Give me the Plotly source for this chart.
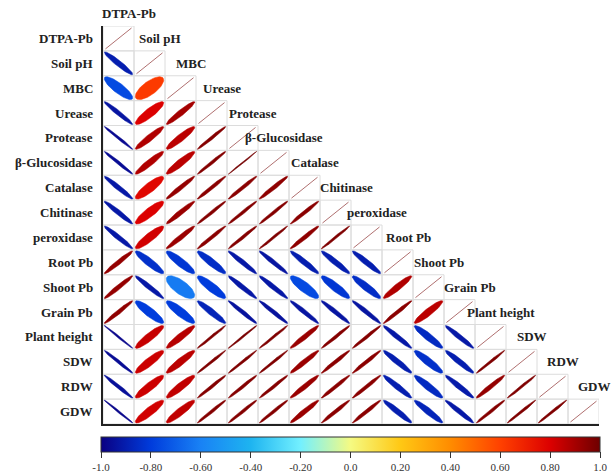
import numpy as np
import plotly.graph_objects as go

variables = ["DTPA-Pb", "Soil pH", "MBC", "Urease", "Protease", "β-Glucosidase",
             "Catalase", "Chitinase", "peroxidase", "Root Pb", "Shoot Pb",
             "Grain Pb", "Plant height", "SDW", "RDW", "GDW"]

# lower-triangle correlations, row i holds values for columns 1..i-1
r_soil_ph = [-0.90]
r_mbc = [-0.76, 0.62]
r_urease = [-0.93, 0.80, 0.90]
r_protease = [-0.97, 0.88, 0.86, 0.96]
r_glucosidase = [-0.96, 0.88, 0.86, 0.96, 0.99]
r_catalase = [-0.92, 0.78, 0.93, 0.95, 0.95, 0.94]
r_chitinase = [-0.92, 0.80, 0.92, 0.96, 0.96, 0.96, 0.95]
r_peroxidase = [-0.92, 0.82, 0.92, 0.95, 0.96, 0.97, 0.94, 0.97]
r_root_pb = [0.93, -0.84, -0.82, -0.85, -0.92, -0.93, -0.90, -0.90, -0.90]
r_shoot_pb = [0.93, -0.92, -0.62, -0.80, -0.92, -0.92, -0.76, -0.82, -0.85, 0.88]
r_grain_pb = [0.94, -0.80, -0.80, -0.88, -0.94, -0.94, -0.93, -0.93, -0.93, 0.95, 0.86]
r_plant_height = [-0.98, 0.84, 0.87, 0.97, 0.98, 0.97, 0.92, 0.96, 0.96, -0.92, -0.86, -0.92]
r_sdw = [-0.96, 0.83, 0.86, 0.97, 0.97, 0.97, 0.92, 0.95, 0.95, -0.90, -0.84, -0.90, 0.97]
r_rdw = [-0.95, 0.83, 0.85, 0.96, 0.96, 0.96, 0.92, 0.95, 0.95, -0.90, -0.86, -0.91, 0.93, 0.97]
r_gdw = [-0.98, 0.82, 0.85, 0.96, 0.96, 0.96, 0.92, 0.95, 0.95, -0.90, -0.88, -0.92, 0.96, 0.97, 0.97]

lower_rows = [[], r_soil_ph, r_mbc, r_urease, r_protease, r_glucosidase, r_catalase,
              r_chitinase, r_peroxidase, r_root_pb, r_shoot_pb, r_grain_pb,
              r_plant_height, r_sdw, r_rdw, r_gdw]

cbar_vals = [-1.0, -0.8, -0.6, -0.4, -0.2, 0.0, 0.2, 0.4, 0.6, 0.8, 1.0]
cbar_text = ["-1.0", "-0.80", "-0.60", "-0.40", "-0.20", "0.0", "0.20", "0.40", "0.60", "0.80", "1.0"]

stops = [(-1.0, (10, 0, 130)), (-0.8, (0, 60, 220)), (-0.6, (25, 130, 245)),
         (-0.4, (30, 180, 240)), (-0.2, (115, 240, 255)), (0.0, (245, 250, 130)),
         (0.2, (255, 200, 20)), (0.4, (255, 140, 0)), (0.6, (255, 65, 0)),
         (0.8, (220, 0, 0)), (1.0, (110, 0, 0))]
colorscale = [[(v + 1) / 2, "rgb(%d,%d,%d)" % c] for v, c in stops]


def color_of(r):
    for (v0, c0), (v1, c1) in zip(stops[:-1], stops[1:]):
        if v0 <= r <= v1:
            f = (r - v0) / (v1 - v0)
            c = [round(a + (b - a) * f) for a, b in zip(c0, c1)]
            return "rgb(%d,%d,%d)" % tuple(c)
    return "rgb(%d,%d,%d)" % stops[-1][1]


FONT = "Liberation Serif"
n = len(variables)
fig = go.Figure()

# grid of the lower triangle
gx, gy = [], []
for i in range(1, n + 1):
    for j in range(1, i + 1):
        x0, x1, y0, y1 = j - 0.5, j + 0.5, i - 0.5, i + 0.5
        gx += [x0, x1, x1, x0, x0, None]
        gy += [y0, y0, y1, y1, y0, None]
fig.add_trace(go.Scatter(x=gx, y=gy, mode="lines", line=dict(color="#dcdcdc", width=1),
                         hoverinfo="skip", showlegend=False))

t = np.linspace(0, 2 * np.pi, 72)
s = 0.46
for i in range(2, n + 1):
    for j, r in enumerate(lower_rows[i - 1], start=1):
        k = ((1 - abs(r)) / (1 + abs(r))) ** 0.62
        a = np.sqrt(2 / (1 + k * k))
        b = k * a
        sg = 1 if r >= 0 else -1
        u = a * np.cos(t) / np.sqrt(2)
        v = b * np.sin(t) / np.sqrt(2)
        ex = j + s * (u - v)
        ey = i - s * sg * (u + v)
        col = color_of(r)
        fig.add_trace(go.Scatter(x=ex, y=ey, mode="lines", fill="toself", fillcolor=col,
                                 line=dict(color=col, width=0.5), hoverinfo="skip",
                                 showlegend=False))

# diagonal (r = 1) lines
for i in range(1, n + 1):
    fig.add_trace(go.Scatter(x=[i - 0.42, i + 0.42], y=[i + 0.42, i - 0.42], mode="lines",
                             line=dict(color="#b07070", width=1), hoverinfo="skip",
                             showlegend=False))

# colorbar
fig.add_trace(go.Scatter(x=[1, 1], y=[1, 1], mode="markers", hoverinfo="skip", showlegend=False,
                         marker=dict(size=0.1, opacity=0, color=[-1, 1], cmin=-1, cmax=1,
                                     colorscale=colorscale, showscale=True,
                                     colorbar=dict(orientation="h", x=0.499, xanchor="center",
                                                   y=-0.0327, yanchor="top", len=499, lenmode="pixels",
                                                   thickness=15, thicknessmode="pixels",
                                                   outlinewidth=1, outlinecolor="#333",
                                                   ticks="outside", ticklen=6, tickwidth=1,
                                                   tickcolor="#333", tickvals=cbar_vals,
                                                   ticktext=cbar_text, xpad=0, ypad=0,
                                                   tickfont=dict(family=FONT, size=11, color="#333")))))

annotations = []
for i, name in enumerate(variables, start=1):
    annotations.append(dict(xref="paper", x=0, xshift=-8, xanchor="right", yref="y", y=i,
                            text="<b>%s</b>" % name, showarrow=False,
                            font=dict(family=FONT, size=13, color="#222")))
    if i == 1:
        annotations.append(dict(xref="x", x=i + 0.35, xanchor="center", yref="paper",
                                y=1 + 12.5 / 398, yanchor="middle",
                                text="<b>%s</b>" % name, showarrow=False,
                                font=dict(family=FONT, size=13, color="#222")))
    else:
        annotations.append(dict(xref="x", x=i + 0.35, xanchor="center", yref="y", y=i - 1,
                                text="<b>%s</b>" % name, showarrow=False,
                                font=dict(family=FONT, size=13, color="#222")))

fig.update_layout(
    width=616, height=475, margin=dict(l=103, r=17, t=26, b=51, autoexpand=False),
    plot_bgcolor="white", paper_bgcolor="white", annotations=annotations,
    xaxis=dict(range=[0.5, 16.5], showgrid=False, zeroline=False, showticklabels=False,
               ticks="", showline=True, linecolor="#222", linewidth=2),
    yaxis=dict(range=[16.5, 0.5], showgrid=False, zeroline=False, showticklabels=False,
               ticks="", showline=True, linecolor="#222", linewidth=2),
)

fig.write_html("out.html")
